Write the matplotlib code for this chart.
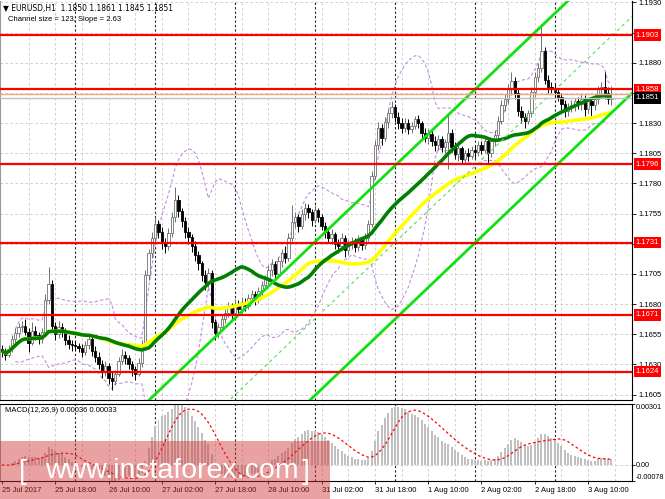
import matplotlib
matplotlib.use("Agg")
import matplotlib.pyplot as plt
import matplotlib.transforms as mtransforms
from matplotlib.patches import Rectangle
import numpy as np
import pandas as pd

plt.rcParams['font.family'] = ['Liberation Sans', 'DejaVu Sans']

# EURUSD H1, 25 Jul 02:00 .. 3 Aug 17:00 (open of each bar = previous close)
first_open = 1.1643
close = [
    1.1641, 1.1638, 1.1643, 1.1651, 1.1656, 1.1661, 1.1662, 1.1657, 1.1648, 1.1658,
    1.1654, 1.1651, 1.1657, 1.1683, 1.1697, 1.1662, 1.1655, 1.1661, 1.1657, 1.1650,
    1.1647, 1.1646, 1.1645, 1.1644, 1.1640, 1.1646, 1.1651, 1.1641, 1.1636, 1.1630,
    1.1624, 1.1629, 1.1619, 1.1616, 1.1622, 1.1633, 1.1638, 1.1635, 1.1630, 1.1626,
    1.1622, 1.1631, 1.1646, 1.1704, 1.1722, 1.1735, 1.1746, 1.1740, 1.1731, 1.1728,
    1.1739, 1.1752, 1.1766, 1.1757, 1.1749, 1.1740, 1.1736, 1.1728, 1.1721, 1.1714,
    1.1704, 1.1698, 1.1706, 1.1665, 1.1656, 1.1661, 1.1668, 1.1673, 1.1678, 1.1673,
    1.1680, 1.1676, 1.1682, 1.1678, 1.1685, 1.1688, 1.1683, 1.1691, 1.1696, 1.1701,
    1.1708, 1.1713, 1.1705, 1.1716, 1.1722, 1.1718, 1.1735, 1.1748, 1.1752, 1.1745,
    1.1755, 1.1760, 1.1756, 1.1750, 1.1758, 1.1752, 1.1745, 1.1740, 1.1735, 1.1738,
    1.1730, 1.1728, 1.1735, 1.1725, 1.1730, 1.1732, 1.1727, 1.1733, 1.1729, 1.1735,
    1.1746, 1.1786, 1.1812, 1.1826, 1.1818, 1.1831, 1.1838, 1.1843, 1.1835, 1.1830,
    1.1826, 1.1830, 1.1825, 1.1828, 1.1833, 1.1830, 1.1822, 1.1818, 1.1821, 1.1815,
    1.1812, 1.1817, 1.1810, 1.1814, 1.1822, 1.1810, 1.1804, 1.1809, 1.1800, 1.1805,
    1.1803, 1.1808, 1.1806, 1.1812, 1.1808, 1.1815, 1.1805, 1.1815, 1.1820, 1.1832,
    1.1845, 1.1850, 1.1858, 1.1865, 1.1855, 1.1840, 1.1835, 1.1832, 1.1838, 1.1856,
    1.1868, 1.1876, 1.1890, 1.1866, 1.1860, 1.1858, 1.1856, 1.1852, 1.1846, 1.1840,
    1.1843, 1.1845, 1.1848, 1.1846, 1.1850, 1.1842, 1.1848, 1.1845, 1.1850, 1.1858,
    1.1860, 1.1855, 1.1850, 1.1851,
]
high = [
    1.1646, 1.1644, 1.1646, 1.1654, 1.1660, 1.1664, 1.1666, 1.1668, 1.1660, 1.1665,
    1.1662, 1.1657, 1.1660, 1.1688, 1.1711, 1.1700, 1.1665, 1.1666, 1.1664, 1.1660,
    1.1654, 1.1650, 1.1649, 1.1648, 1.1647, 1.1649, 1.1654, 1.1653, 1.1645, 1.1640,
    1.1634, 1.1633, 1.1631, 1.1624, 1.1625, 1.1636, 1.1643, 1.1641, 1.1638, 1.1633,
    1.1629, 1.1635, 1.1650, 1.1708, 1.1726, 1.1740, 1.1752, 1.1750, 1.1744, 1.1735,
    1.1743, 1.1756, 1.1777, 1.1770, 1.1760, 1.1752, 1.1744, 1.1738, 1.1732, 1.1724,
    1.1716, 1.1708, 1.1710, 1.1708, 1.1668, 1.1664, 1.1672, 1.1677, 1.1682, 1.1681,
    1.1684, 1.1683, 1.1686, 1.1685, 1.1688, 1.1692, 1.1691, 1.1694, 1.1699, 1.1704,
    1.1712, 1.1717, 1.1716, 1.1719, 1.1726, 1.1728, 1.1739, 1.1762, 1.1756, 1.1755,
    1.1759, 1.1764, 1.1763, 1.1759, 1.1762, 1.1760, 1.1755, 1.1748, 1.1743, 1.1742,
    1.1740, 1.1734, 1.1739, 1.1737, 1.1733, 1.1736, 1.1735, 1.1737, 1.1736, 1.1739,
    1.1750, 1.1790, 1.1816, 1.1831, 1.1829, 1.1835, 1.1842, 1.1848, 1.1846, 1.1839,
    1.1834, 1.1834, 1.1833, 1.1831, 1.1836, 1.1837, 1.1832, 1.1826, 1.1825, 1.1824,
    1.1819, 1.1820, 1.1819, 1.1817, 1.1838, 1.1825, 1.1814, 1.1812, 1.1811, 1.1808,
    1.1809, 1.1811, 1.1812, 1.1815, 1.1815, 1.1818, 1.1817, 1.1818, 1.1824, 1.1836,
    1.1849, 1.1854, 1.1862, 1.1872, 1.1868, 1.1858, 1.1844, 1.1838, 1.1841, 1.1860,
    1.1872, 1.1880, 1.1912, 1.1893, 1.1870, 1.1864, 1.1862, 1.1859, 1.1855, 1.1849,
    1.1847, 1.1849, 1.1851, 1.1852, 1.1854, 1.1853, 1.1852, 1.1851, 1.1854, 1.1861,
    1.1864, 1.1872, 1.1860, 1.1861,
]
low = [
    1.1636, 1.1634, 1.1636, 1.1640, 1.1648, 1.1653, 1.1657, 1.1654, 1.1640, 1.1646,
    1.1650, 1.1647, 1.1648, 1.1655, 1.1680, 1.1658, 1.1650, 1.1652, 1.1653, 1.1646,
    1.1643, 1.1641, 1.1642, 1.1640, 1.1636, 1.1638, 1.1643, 1.1637, 1.1632, 1.1626,
    1.1619, 1.1620, 1.1614, 1.1609, 1.1613, 1.1620, 1.1630, 1.1630, 1.1626, 1.1620,
    1.1617, 1.1620, 1.1628, 1.1644, 1.1700, 1.1718, 1.1731, 1.1735, 1.1726, 1.1722,
    1.1725, 1.1736, 1.1748, 1.1752, 1.1744, 1.1735, 1.1730, 1.1723, 1.1716, 1.1708,
    1.1699, 1.1692, 1.1694, 1.1660, 1.1650, 1.1652, 1.1658, 1.1664, 1.1669, 1.1668,
    1.1670, 1.1672, 1.1673, 1.1674, 1.1676, 1.1682, 1.1679, 1.1681, 1.1687, 1.1692,
    1.1697, 1.1703, 1.1700, 1.1702, 1.1711, 1.1714, 1.1716, 1.1732, 1.1743, 1.1740,
    1.1742, 1.1750, 1.1751, 1.1745, 1.1747, 1.1748, 1.1741, 1.1735, 1.1731, 1.1730,
    1.1726, 1.1722, 1.1725, 1.1719, 1.1721, 1.1726, 1.1723, 1.1724, 1.1725, 1.1726,
    1.1732, 1.1744, 1.1784, 1.1808, 1.1812, 1.1815, 1.1826, 1.1834, 1.1831, 1.1825,
    1.1822, 1.1823, 1.1821, 1.1822, 1.1825, 1.1826, 1.1818, 1.1814, 1.1813, 1.1811,
    1.1807, 1.1808, 1.1806, 1.1805, 1.1792, 1.1806, 1.1800, 1.1799, 1.1796, 1.1797,
    1.1799, 1.1800, 1.1801, 1.1803, 1.1804, 1.1805, 1.1797, 1.1802, 1.1811, 1.1817,
    1.1829, 1.1840, 1.1846, 1.1853, 1.1850, 1.1836, 1.1830, 1.1826, 1.1829, 1.1835,
    1.1852, 1.1864, 1.1872, 1.1862, 1.1855, 1.1854, 1.1851, 1.1848, 1.1841, 1.1835,
    1.1836, 1.1839, 1.1840, 1.1842, 1.1841, 1.1836, 1.1838, 1.1836, 1.1841, 1.1846,
    1.1852, 1.1850, 1.1846, 1.1845,
]

time_ticks = [0, 16, 32, 48, 64, 80, 96, 112, 128, 144, 160, 176]
time_labels = ['25 Jul 2017', '25 Jul 18:00', '26 Jul 10:00', '27 Jul 02:00',
               '27 Jul 18:00', '28 Jul 10:00', '31 Jul 02:00', '31 Jul 18:00',
               '1 Aug 10:00', '2 Aug 02:00', '2 Aug 18:00', '3 Aug 10:00']
day_separators = [22, 46, 70, 94, 118, 142, 166]

price_ticks = [1.1605, 1.1630, 1.1655, 1.1680, 1.1705, 1.1730, 1.1755,
               1.1780, 1.1805, 1.1830, 1.1855, 1.1880, 1.1905, 1.1930]
price_labels = ['1.1605', '1.1630', '1.1655', '1.1680', '1.1705', '', '1.1755',
                '1.1780', '1.1805', '1.1830', '', '1.1880', '', '1.1930']
levels = [1.1903, 1.1858, 1.1796, 1.1731, 1.1671, 1.1624]
bid_price = 1.1851
upper_mark = 1.1854

# linear regression channel (123 bars, 2.63 points per bar)
channel_mid_last = 1.1902
channel_slope = 0.000263
channel_half = 0.00636

macd_ticks = [-0.00078, 0.0, 0.00301]
macd_labels = ['-0.00078', '0.00', '0.00301']

# ---------------------------------------------------------------
W, H = 665, 499
fig = plt.figure(figsize=(W / 100, H / 100), dpi=100)
fig.patch.set_facecolor('white')

ax = fig.add_axes([0, 1 - 400 / H, 632 / W, 399 / H])
ax2 = fig.add_axes([0, 1 - 481 / H, 632 / W, 77 / H], sharex=ax)

n = len(close)
x = np.arange(n)
c = np.array(close)
o = np.concatenate([[first_open], c[:-1]])
h = np.array(high)
l = np.array(low)

ax.set_xlim(-0.6, 189.2)
ax.set_ylim(1.16005, 1.19312)
ax2.set_ylim(-0.00080, 0.00303)

grid_kw = dict(color='#c8c8c8', lw=0.6, ls=(0, (3, 3)), zorder=0)
sep_kw = dict(color='#222222', lw=0.8, ls=(0, (2, 2)), zorder=0.5)
for a in (ax, ax2):
    for i in range(8, 190, 8):
        a.axvline(i, **grid_kw)
    for i in day_separators:
        a.axvline(i, **sep_kw)
for p in price_ticks:
    ax.axhline(p, **grid_kw)
ax2.axhline(0, **grid_kw)

# indicators
s = pd.Series(c)
sma30 = s.rolling(30, min_periods=1).mean()
sma50 = s.rolling(50, min_periods=1).mean()
bb_mid = s.rolling(20, min_periods=5).mean()
bb_std = s.rolling(20, min_periods=5).std(ddof=0)
ax.plot(x, bb_mid + 2 * bb_std, color='#c58be8', lw=0.8, ls=(0, (3, 2)), zorder=1)
ax.plot(x, bb_mid - 2 * bb_std, color='#c58be8', lw=0.8, ls=(0, (3, 2)), zorder=1)

# candles
up = c >= o
body_lo = np.minimum(o, c)
body_h = np.maximum(np.abs(c - o), 0.00003)
ax.vlines(x[up], l[up], h[up], color='#707070', lw=0.7, zorder=2)
ax.vlines(x[~up], l[~up], h[~up], color='black', lw=0.7, zorder=2)
ax.bar(x[up], body_h[up], bottom=body_lo[up], width=0.7, color='white',
       edgecolor='#707070', linewidth=0.6, zorder=3)
ax.bar(x[~up], body_h[~up], bottom=body_lo[~up], width=0.7, color='black',
       edgecolor='black', linewidth=0.6, zorder=3)

ax.plot(x, sma50, color='#ffff00', lw=2.6, zorder=4, solid_capstyle='butt')
ax.plot(x, sma30, color='#008000', lw=2.6, zorder=5, solid_capstyle='butt')

# channel
cx = np.array([-1.0, 190.0])
mid = channel_mid_last + channel_slope * (cx - (n - 1))
ax.plot(cx, mid + channel_half, color='#11e011', lw=2.0, zorder=6)
ax.plot(cx, mid - channel_half, color='#11e011', lw=2.0, zorder=6)
ax.plot(cx, mid, color='#55dd55', lw=0.8, ls=(0, (3, 3)), zorder=6)

# levels
for lev in levels:
    ax.axhline(lev, color='#ff0000', lw=1.6, zorder=7)
ax.axhline(upper_mark, color='#f0a888', lw=1.0, zorder=6.5)
ax.axhline(bid_price, color='#c0c0c0', lw=1.0, zorder=6.5)

trans = mtransforms.blended_transform_factory(ax.transAxes, ax.transData)
for lev in levels:
    ax.text(1.006, lev, f'{lev:.4f}', transform=trans, ha='left', va='center',
            color='white', fontsize=5.5, zorder=20,
            bbox=dict(boxstyle='square,pad=0.3', fc='#ff0000', ec='none'))
ax.text(1.006, bid_price, f'{bid_price:.4f}', transform=trans, ha='left',
        va='center', color='white', fontsize=5.5, zorder=20,
        bbox=dict(boxstyle='square,pad=0.3', fc='black', ec='none'))

# axes cosmetics
for a in (ax, ax2):
    a.yaxis.tick_right()
    a.spines['left'].set_color('#999999')
    a.spines['right'].set_color('black')
    a.spines['bottom'].set_color('black')
ax.tick_params(axis='y', length=3, width=0.6, pad=2, labelsize=5.5)
ax2.tick_params(axis='y', length=2, width=0.6, pad=1, labelsize=5.2)
ax.spines['top'].set_visible(False)
ax.set_yticks(price_ticks)
ax.set_yticklabels(price_labels)
ax.tick_params(axis='x', bottom=False, labelbottom=False)

ax2.set_yticks(macd_ticks)
ax2.set_yticklabels(macd_labels)
macd_tl = ax2.get_yticklabels()
macd_tl[0].set_va('bottom')
macd_tl[2].set_va('top')
ax2.set_xticks(time_ticks)
ax2.set_xticklabels(time_labels, ha='left')
ax2.tick_params(axis='x', length=2, width=0.6, pad=2, labelsize=5.5)

# MACD
ema12 = s.ewm(span=12, adjust=False).mean()
ema26 = s.ewm(span=26, adjust=False).mean()
macd = ema12 - ema26
signal = macd.rolling(9, min_periods=1).mean()
ax2.bar(x, macd, width=0.6, color='#c0c0c0', zorder=2)
ax2.plot(x, signal, color='red', lw=0.9, ls=(0, (2, 2)), zorder=3)
ax2.text(5 / 632, 0.92, 'MACD(12,26,9) 0.00036 0.00033', transform=ax2.transAxes,
         fontsize=5.5, va='center', ha='left')

# header
fig.text(3 / W, 1 - 8 / H, '\u25bc EURUSD,H1  1.1850 1.1861 1.1845 1.1851',
         fontsize=5.5, va='center', ha='left', family=['DejaVu Sans'])
fig.text(8 / W, 1 - 19.5 / H, 'Channel size = 123, Slope = 2.63',
         fontsize=5.5, va='center', ha='left')

# watermark
fig.patches.append(Rectangle((0, 0), 330 / W, 58 / H, transform=fig.transFigure,
                             fc='#d03030', ec='none', alpha=0.45, zorder=10))
wm = dict(color='white', fontsize=20.5, va='baseline', ha='left', zorder=11)
fig.text(19 / W, 1 - 479 / H, '[', **wm)
fig.text(45 / W, 1 - 478 / H, 'www.instaforex.com', **wm)
fig.text(302 / W, 1 - 479 / H, ']', **wm)

fig.savefig('out.png', dpi=100)
